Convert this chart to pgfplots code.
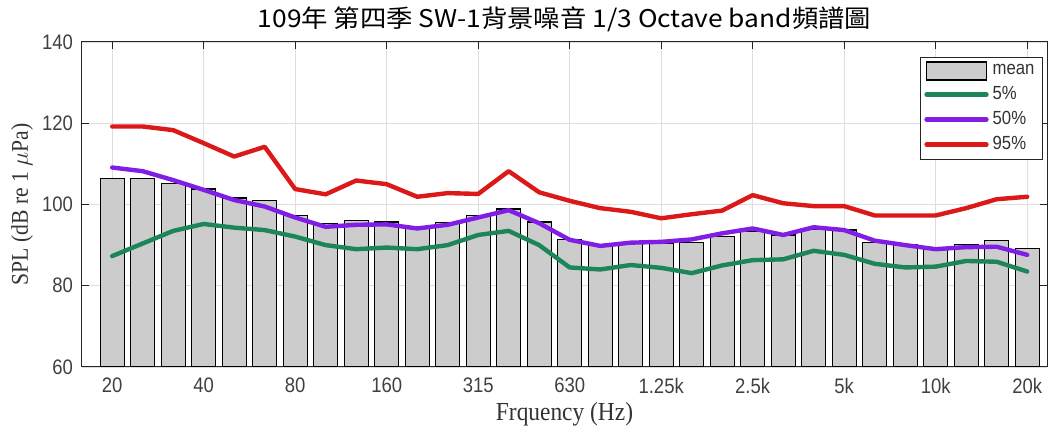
\documentclass[border=0pt]{standalone}
\usepackage{fontspec}
\usepackage{pgfplots}
\pgfplotsset{compat=1.18}
\setmainfont{Liberation Serif}[FakeStretch=0.9]
\newfontfamily\tickfont{Liberation Sans}[FakeStretch=0.88]
\newfontfamily\cjk{Noto Sans CJK TC}[FakeStretch=1.08]

\definecolor{pgreen}{RGB}{28,134,89}
\definecolor{ppurple}{RGB}{128,30,230}
\definecolor{pred}{RGB}{220,25,25}
\definecolor{barfill}{RGB}{204,204,204}

\pgfplotsset{
  lineleg/.style={legend image code/.code={\draw[##1] (0bp,0bp) -- (30bp,0bp);}},
  barleg/.style={legend image code/.code={\draw[##1] (0bp,-4.5bp) rectangle (30bp,4.5bp);}},
}

% 1/3 octave bands 20 Hz .. 20 kHz, index 0..30
\pgfplotstableread{
i mean  p5    p50   p95
0  106.4 87.3  109.1 119.2
1  106.4 90.4  108.2 119.2
2  105.2 93.5  106.0 118.3
3  103.8 95.2  103.6 115.1
4  101.6 94.3  101.1 111.8
5  100.9 93.7  99.5  114.2
6  97.2  92.1  96.8  103.8
7  95.4  90.0  94.5  102.5
8  96.1  89.0  95.0  105.9
9  95.7  89.4  95.1  105.0
10 94.3  89.0  94.1  101.9
11 95.6  90.0  95.0  102.8
12 97.2  92.5  96.8  102.6
13 98.9  93.5  98.6  108.2
14 95.7  90.0  95.4  103.0
15 91.3  84.5  91.3  100.9
16 90.0  84.0  89.8  99.1
17 90.4  85.1  90.6  98.2
18 90.4  84.4  90.8  96.6
19 90.6  83.1  91.4  97.6
20 92.1  85.0  92.9  98.5
21 93.3  86.3  94.1  102.3
22 92.5  86.5  92.5  100.3
23 93.9  88.6  94.4  99.6
24 93.7  87.6  93.7  99.6
25 90.6  85.4  91.1  97.3
26 90.2  84.5  90.0  97.3
27 89.2  84.7  89.0  97.3
28 90.2  86.1  89.5  99.1
29 91.1  85.9  89.6  101.3
30 89.2  83.5  87.6  101.9
}\spl

\begin{document}
\begin{tikzpicture}
\begin{axis}[
    name=ax,
    scale only axis,
    width=482.5bp, height=162.5bp,
    xmin=-0.99, xmax=30.65,
    ymin=60, ymax=140,
    ytick={60,80,100,120,140},
    yticklabels={60,80,100,120,140},
    xtick={0,3,...,30},
    xticklabels={20,40,80,160,315,630,1.25k,2.5k,5k,10k,20k},
    grid=major,
    major grid style={black!13, line width=0.4bp},
    axis line style={black!85, line width=0.5bp},
    tick style={black!85, line width=0.5bp},
    major tick length=3.5bp,
    tick align=inside,
    ticklabel style={font=\tickfont\fontsize{10.5bp}{12bp}\selectfont, text=black!75},
    xticklabel style={yshift=-2bp},
    yticklabel style={xshift=-1bp},
    title={\smash{\cjk 109年 第四季 SW-1背景噪音 1/3 Octave band頻譜圖}},
    title style={at={(0.5,1)}, anchor=base, yshift=1.5bp, inner sep=0pt,
      font=\fontsize{12.2bp}{14bp}\selectfont},
    xlabel={Frquency (Hz)},
    xlabel style={at={(0.5,0)}, anchor=base, yshift=-27bp, inner sep=0pt,
      font=\fontsize{13bp}{15bp}\selectfont, text=black!80},
    ylabel={SPL (dB re 1 $\mu$Pa)},
    ylabel style={at={(0,0.5)}, anchor=center, yshift=30bp, inner sep=0pt,
      font=\fontsize{12bp}{14bp}\selectfont, text=black!80},
    legend style={at={(1,1)}, anchor=north east, xshift=-2bp, yshift=-7.5bp,
      font=\tickfont\fontsize{9.5bp}{11bp}\selectfont, text=black!80,
      draw=black!85, line width=0.5bp, inner xsep=2bp, inner ysep=1.5bp,
      row sep=0.4bp, cells={anchor=west}},
    legend cell align=left,
]
\addplot[ybar, bar width=0.79, bar shift=0pt, fill=barfill, draw=black, line width=0.6bp, barleg]
  table[x=i, y=mean] {\spl};
\addlegendentry{mean}
\addplot[pgreen, line width=2.2bp, line join=round, line cap=round, lineleg]
  table[x=i, y=p5] {\spl};
\addlegendentry{5\%}
\addplot[ppurple, line width=2.2bp, line join=round, line cap=round, lineleg]
  table[x=i, y=p50] {\spl};
\addlegendentry{50\%}
\addplot[pred, line width=2.2bp, line join=round, line cap=round, lineleg]
  table[x=i, y=p95] {\spl};
\addlegendentry{95\%}
\end{axis}
\path ([shift={(-41bp,-35bp)}]ax.south west) rectangle ([shift={(5bp,21bp)}]ax.north east);
\end{tikzpicture}
\end{document}
